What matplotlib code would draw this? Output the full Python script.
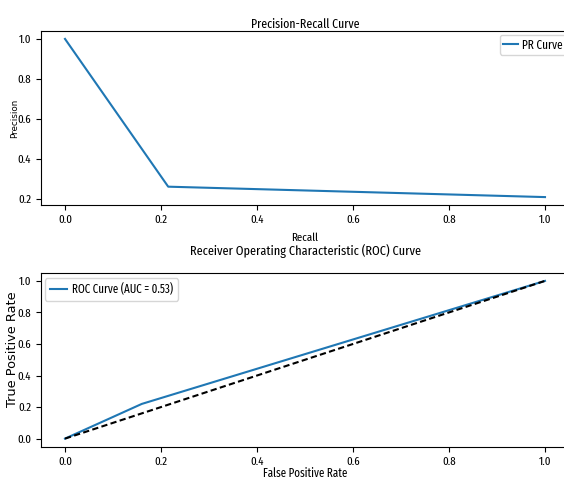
import matplotlib
matplotlib.use("Agg")
import matplotlib.pyplot as plt

# PR curve points (recall, precision)
recall = [0.0, 0.215, 1.0]
precision = [1.0, 0.262, 0.21]

# ROC curve points
fpr = [0.0, 0.16, 1.0]
tpr = [0.0, 0.22, 1.0]
roc_auc = 0.53

plt.rcParams['font.family'] = ['Fira Sans Extra Condensed', 'DejaVu Sans']
vert = ['DejaVu Sans']

W, H = 564, 479
fig = plt.figure(figsize=(W / 100, H / 100), dpi=100)

def px_axes(x0, y0, x1, y1):
	# axes placed by pixel box (top-left origin)
	return fig.add_axes([x0 / W, 1 - y1 / H, (x1 - x0) / W, (y1 - y0) / H])

# top: precision-recall
ax1 = px_axes(41, 31, 569, 205)
ax1.plot(recall, precision, label='PR Curve', lw=1.5)
ax1.set_title('Precision-Recall Curve', fontsize=9.2, pad=2.5)
ax1.set_xlabel('Recall', fontsize=8.5)
ax1.set_ylabel('Precision', fontsize=6.3, family=vert)
ax1.xaxis.set_label_coords(0.5, -0.16)
ax1.yaxis.set_label_coords(-0.042, 0.5)
ax1.set_yticks([0.2, 0.4, 0.6, 0.8, 1.0])
ax1.tick_params(labelsize=8.5)
ax1.legend(loc='upper left', bbox_to_anchor=(0.869, 0.977), borderaxespad=0,
	fontsize=8.8, handlelength=1.2, handletextpad=0.3, borderpad=0.3)

# bottom: ROC
ax2 = px_axes(41, 273, 569, 446.5)
ax2.plot(fpr, tpr, label='ROC Curve (AUC = %.2f)' % roc_auc, lw=1.5)
ax2.plot([0, 1], [0, 1], 'k--', lw=1.5, dashes=(3, 1.6))
ax2.set_title('Receiver Operating Characteristic (ROC) Curve', fontsize=9.6, pad=13)
ax2.set_xlabel('False Positive Rate', fontsize=8.6)
ax2.set_ylabel('True Positive Rate', fontsize=9.3, family=vert)
ax2.xaxis.set_label_coords(0.5, -0.118)
ax2.yaxis.set_label_coords(-0.042, 0.56)
ax2.tick_params(labelsize=8.5)
ax2.legend(loc='upper left', bbox_to_anchor=(0.0076, 0.97), borderaxespad=0,
	fontsize=8.6, handlelength=1.4, handletextpad=0.5, borderpad=0.4)

fig.savefig('out.png', dpi=100)
